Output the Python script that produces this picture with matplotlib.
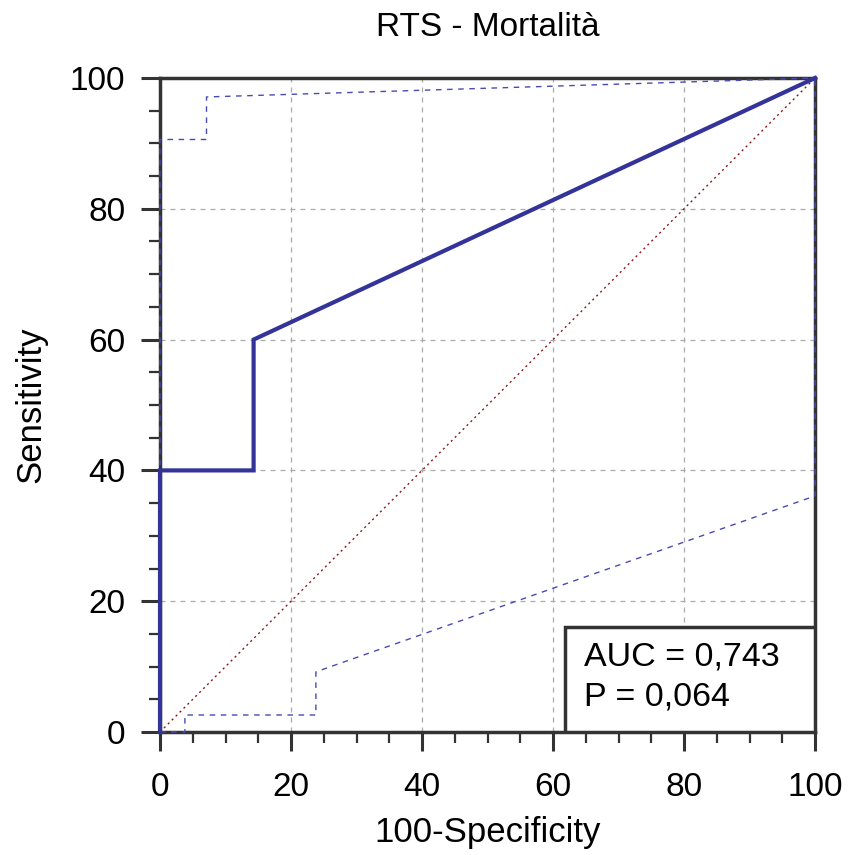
import matplotlib.pyplot as plt
from matplotlib.patches import Rectangle

plt.rcParams['font.family'] = ['Liberation Sans', 'DejaVu Sans']

# ROC curve (100-Specificity, Sensitivity)
roc_x = [0, 0, 14.29, 14.29, 100]
roc_y = [0, 40, 40, 60, 100]

# confidence bounds
upper_x = [0, 0, 7.1, 7.1, 100]
upper_y = [0, 90.6, 90.6, 97.1, 100]
lower_x = [0, 3.8, 3.8, 23.8, 23.8, 100, 100]
lower_y = [0, 0, 2.6, 2.6, 9.2, 36.1, 100]

title = 'RTS - Mortalità'
auc_text = 'AUC = 0,743'
p_text = 'P = 0,064'
ticks = [0, 20, 40, 60, 80, 100]

fig = plt.figure(figsize=(8.48, 8.55), dpi=100)
ax = fig.add_axes([160 / 848, 1 - 732 / 855, 655 / 848, 654 / 855])

ax.set_xlim(0, 100)
ax.set_ylim(0, 100)

ax.grid(True, color='#aaaaaa', linestyle=(0, (4, 4)), linewidth=0.9)
ax.set_axisbelow(True)

for s in ax.spines.values():
    s.set_color('#333333')
    s.set_linewidth(2.5)
    s.set_zorder(2.5)

ax.plot([0, 100], [0, 100], color='#8b1a1a', linestyle=(0, (1.5, 2.5)),
        linewidth=1.0, zorder=3)
ax.plot(upper_x, upper_y, color='#4a4ab4', linestyle=(0, (4, 4)),
        linewidth=1.0, clip_on=False, zorder=4)
ax.plot(lower_x, lower_y, color='#4a4ab4', linestyle=(0, (4, 4)),
        linewidth=1.0, clip_on=False, zorder=4)
ax.plot(roc_x, roc_y, color='#333399', linewidth=3.0, clip_on=False,
        zorder=5, solid_joinstyle='miter')

# AUC box
box = Rectangle((61.9, 0), 38.1, 16.0, facecolor='white', edgecolor='#333333',
                linewidth=2.5, zorder=6)
ax.add_patch(box)
ax.text(64.7, 11.4, auc_text, fontsize=24.5, va='center', ha='left', zorder=7)
ax.text(64.7, 5.3, p_text, fontsize=24.5, va='center', ha='left', zorder=7)

ax.set_xticks(ticks)
ax.set_yticks(ticks)
ax.set_xticks(range(0, 101, 5), minor=True)
ax.set_yticks(range(0, 101, 5), minor=True)
ax.tick_params(which='major', length=14, width=2.2, color='#333333',
               labelsize=24)
ax.tick_params(which='minor', length=8, width=1.6, color='#333333')
ax.tick_params(axis='x', which='major', pad=15)
ax.tick_params(axis='y', which='major', pad=11)

ax.set_title(title, fontsize=24, pad=30)
ax.set_xlabel('100-Specificity', fontsize=25, labelpad=9)
ax.set_ylabel('Sensitivity', fontsize=25, labelpad=16)

fig.savefig('out.png', dpi=100)
